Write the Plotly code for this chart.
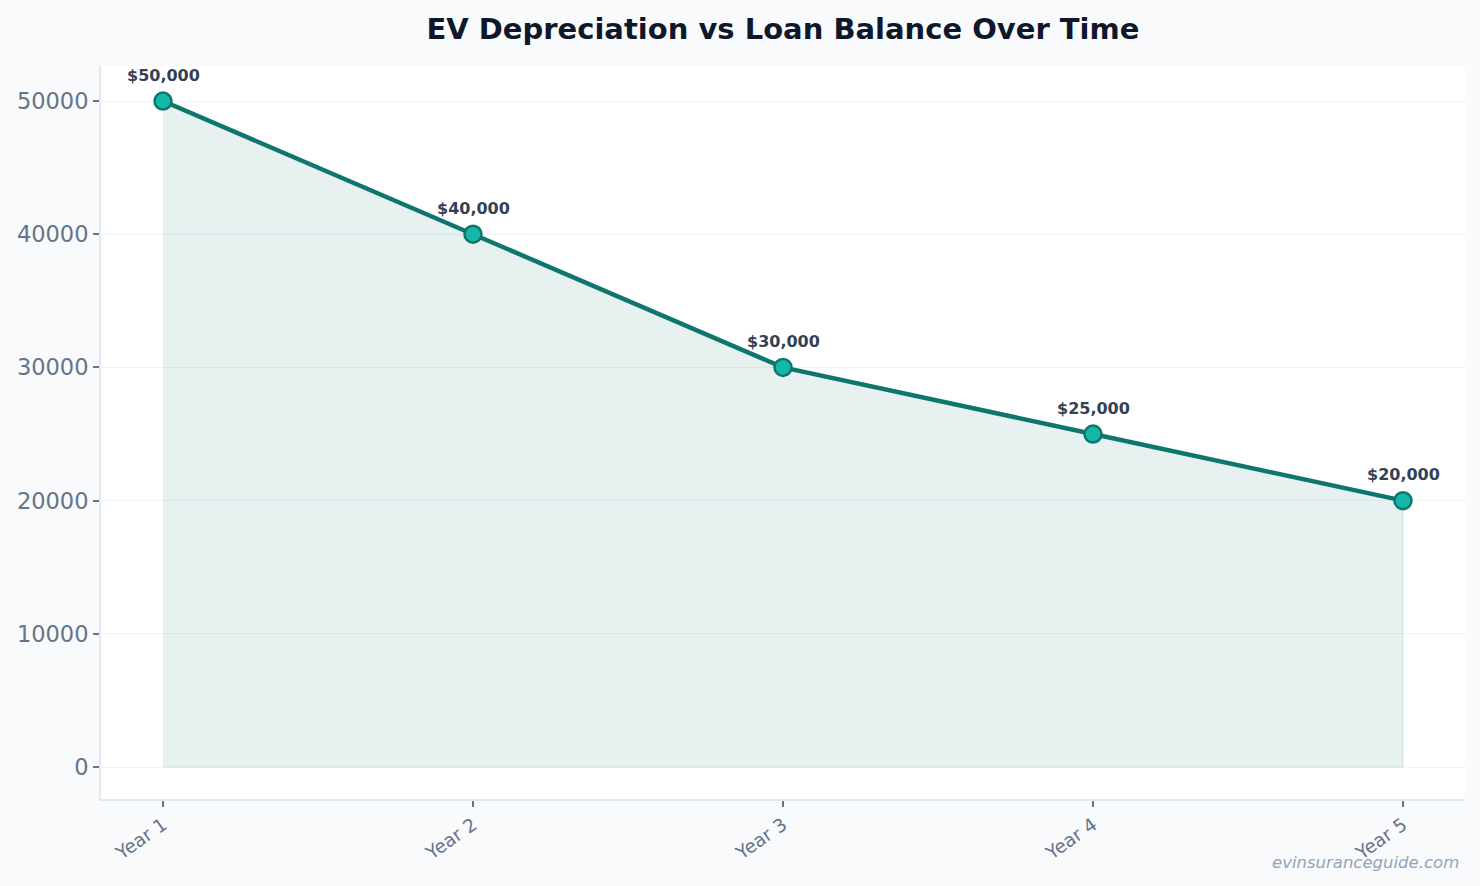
import plotly.graph_objects as go

# chart data
years = ["Year 1", "Year 2", "Year 3", "Year 4", "Year 5"]
values = [50000, 40000, 30000, 25000, 20000]
value_labels = ["$50,000", "$40,000", "$30,000", "$25,000", "$20,000"]

line_color = "#0f766e"
marker_color = "#14b8a6"
axis_text = "#64748b"

fig = go.Figure()

# shaded area under the line (closed polygon so the faint edges show like fill_between)
fig.add_trace(go.Scatter(
    x=years + years[::-1],
    y=values + [0] * len(values),
    fill="toself",
    fillcolor="rgba(15,118,110,0.10)",
    line=dict(color="rgba(15,118,110,0.10)", width=1.5),
    mode="lines",
    hoverinfo="skip",
    showlegend=False,
))

fig.add_trace(go.Scatter(
    x=years,
    y=values,
    mode="lines+markers",
    line=dict(color=line_color, width=4.5),
    marker=dict(size=17, color=marker_color, line=dict(color=line_color, width=2.5)),
    showlegend=False,
))

# value labels above each point
for yr, v, lab in zip(years, values, value_labels):
    fig.add_annotation(
        x=yr, y=v, text="<b>" + lab + "</b>", showarrow=False,
        yshift=26, font=dict(family="DejaVu Sans", size=16, color="#334155"),
    )

# watermark
fig.add_annotation(
    x=1, y=0, xref="paper", yref="paper", xanchor="right", yanchor="top",
    xshift=-4, yshift=-52, showarrow=False,
    text="<i>evinsuranceguide.com</i>",
    font=dict(family="DejaVu Sans", size=16.5, color="#94a3b8"),
)

fig.update_layout(
    width=1480,
    height=886,
    paper_bgcolor="#f8fafc",
    plot_bgcolor="#ffffff",
    margin=dict(l=101, r=15, t=66, b=87),
    title=dict(
        text="<b>EV Depreciation vs Loan Balance Over Time</b>",
        x=0.529, xanchor="center", y=0.968, yanchor="middle",
        font=dict(family="DejaVu Sans", size=29, color="#0f172a"),
    ),
    font=dict(family="DejaVu Sans"),
)

fig.update_xaxes(
    type="category",
    range=[-0.2, 4.2],
    showgrid=False,
    showline=True, linecolor="#e2e8f0", linewidth=2,
    ticks="outside", ticklen=6, tickcolor=axis_text, tickwidth=1.5,
    tickangle=-35,
    tickfont=dict(size=18.5, color=axis_text),
    zeroline=False,
)

fig.update_yaxes(
    range=[-2400, 52630],
    tickvals=[0, 10000, 20000, 30000, 40000, 50000],
    ticktext=["0", "10000", "20000", "30000", "40000", "50000"],
    showgrid=True, gridcolor="#f1f5f9", gridwidth=1,
    showline=True, linecolor="#e2e8f0", linewidth=2,
    ticks="outside", ticklen=6, tickcolor=axis_text, tickwidth=1.5,
    tickfont=dict(size=22.5, color=axis_text),
    zeroline=False,
)

# drop the page's default body margin so the figure sits at the window corner
fig.write_html("out.html", config={"displayModeBar": False},
               post_script="document.body.style.margin='0';")
